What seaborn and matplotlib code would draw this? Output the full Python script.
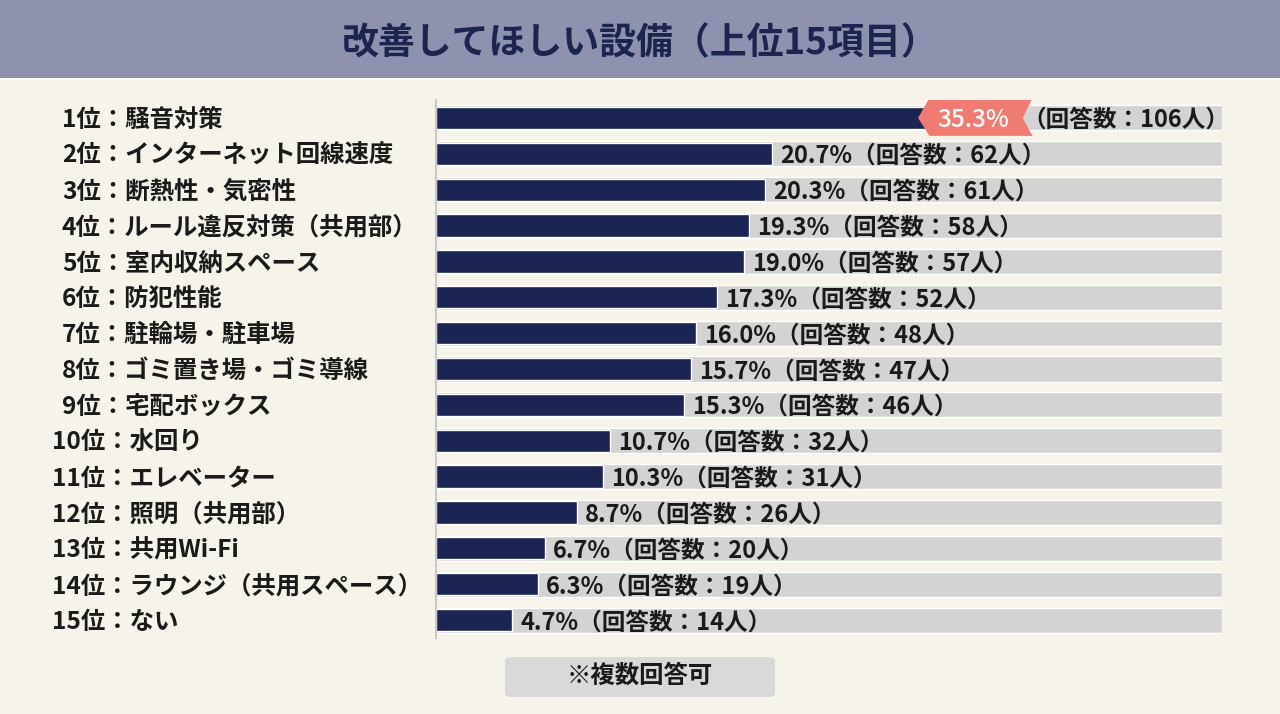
import matplotlib
matplotlib.use("Agg")
import matplotlib.pyplot as plt
import matplotlib.transforms as mtrans
from matplotlib.patches import Rectangle, FancyBboxPatch, Polygon
import seaborn as sns

# data
ranks = list(range(1, 16))
items = ["騒音対策", "インターネット回線速度", "断熱性・気密性", "ルール違反対策（共用部）",
         "室内収納スペース", "防犯性能", "駐輪場・駐車場", "ゴミ置き場・ゴミ導線",
         "宅配ボックス", "水回り", "エレベーター", "照明（共用部）", "共用Wi-Fi",
         "ラウンジ（共用スペース）", "ない"]
pcts = [35.3, 20.7, 20.3, 19.3, 19.0, 17.3, 16.0, 15.7, 15.3, 10.7, 10.3, 8.7, 6.7, 6.3, 4.7]
counts = [106, 62, 61, 58, 57, 52, 48, 47, 46, 32, 31, 26, 20, 19, 14]
title = "改善してほしい設備（上位15項目）"
note = "※複数回答可"

BG = "#f6f3ea"
NAVY = "#1b2452"
GREY = "#d3d3d3"
HEAD = "#8e92ae"
CORAL = "#ef7b72"
XMAX = 48.43
DY = 0.06  # nudge text down a little so it sits centred on the bars

sns.set_theme(style="white")
plt.rcParams["font.family"] = ["Noto Sans CJK JP", "DejaVu Sans"]
plt.rcParams["font.weight"] = "bold"

fig = plt.figure(figsize=(12.8, 7.14), dpi=100, facecolor=BG)
ax = fig.add_axes([436 / 1280, 1 - 638 / 714, 786 / 1280, 538 / 714])
ax.set_facecolor("none")

labels = [f"{r}位：{n}" for r, n in zip(ranks, items)]

# grey track + navy bars
sns.barplot(x=[XMAX] * len(labels), y=labels, orient="h", color=GREY,
            width=0.7, saturation=1, ax=ax)
sns.barplot(x=pcts, y=labels, orient="h", color=NAVY, width=0.62,
            saturation=1, ax=ax)
ax.set_xlim(0, XMAX)
ax.set_ylim(14.5, -0.5)
ax.set_xticks([])
ax.set_yticks([])
ax.set_xlabel("")
ax.set_ylabel("")
for s in ["top", "right", "bottom"]:
    ax.spines[s].set_visible(False)
ax.spines["left"].set_color("#c8c8c8")
ax.spines["left"].set_linewidth(1.5)

# row labels on the left
tr = mtrans.blended_transform_factory(fig.transFigure, ax.transData)
for i, (r, lab) in enumerate(zip(ranks, labels)):
    x0 = 62 if r < 10 else 52
    fig.text(x0 / 1280, i + DY, lab, transform=tr, ha="left", va="center",
             fontsize=17.6, fontweight="bold", color="#1a1a1a")

# value labels
for i, (p, c) in enumerate(zip(pcts, counts)):
    if i == 0:
        # coral flag callout for top item
        poly = Polygon([(p - 5.6, 0), (p - 4.9, -0.55), (p + 1.45, -0.55),
                        (p + 0.85, 0), (p + 1.45, 0.5), (p - 4.9, 0.5)],
                       closed=True, facecolor=CORAL, edgecolor="none", zorder=5)
        ax.add_patch(poly)
        ax.text(p - 4.4, DY, f"{p:.1f}%", ha="left", va="center", fontsize=17.5,
                fontweight="medium", color="white", zorder=6)
        ax.text(p + 0.8, DY, f"（回答数：{c}人）", ha="left", va="center",
                fontsize=17, fontweight="bold", color="#1a1a1a", zorder=6)
    else:
        ax.text(p + 0.5, i + DY, f"{p:.1f}%（回答数：{c}人）", ha="left", va="center",
                fontsize=17, fontweight="bold", color="#1a1a1a")

# header band
fig.patches.append(Rectangle((0, 1 - 78 / 714), 1, 78 / 714, transform=fig.transFigure,
                             facecolor=HEAD, edgecolor="none", zorder=0))
fig.patches.append(Rectangle((0, 1 - 80 / 714), 1, 2 / 714, transform=fig.transFigure,
                             facecolor="#ffffff", edgecolor="none", zorder=0))
fig.text(0.5, 1 - 44 / 714, title, ha="center", va="center", fontsize=26.6,
         fontweight="bold", color="#1b2550")

# footnote box
fig.patches.append(FancyBboxPatch((505 / 1280, 1 - 697 / 714), 270 / 1280, 40 / 714,
                                  boxstyle="round,pad=0,rounding_size=0.005",
                                  transform=fig.transFigure, facecolor="#d9d9d9",
                                  edgecolor="none", zorder=0))
fig.text(640 / 1280, 1 - 676 / 714, note, ha="center", va="center", fontsize=17.6,
         fontweight="bold", color="#1a1a1a")

fig.savefig("out.png", dpi=100, facecolor=BG)
